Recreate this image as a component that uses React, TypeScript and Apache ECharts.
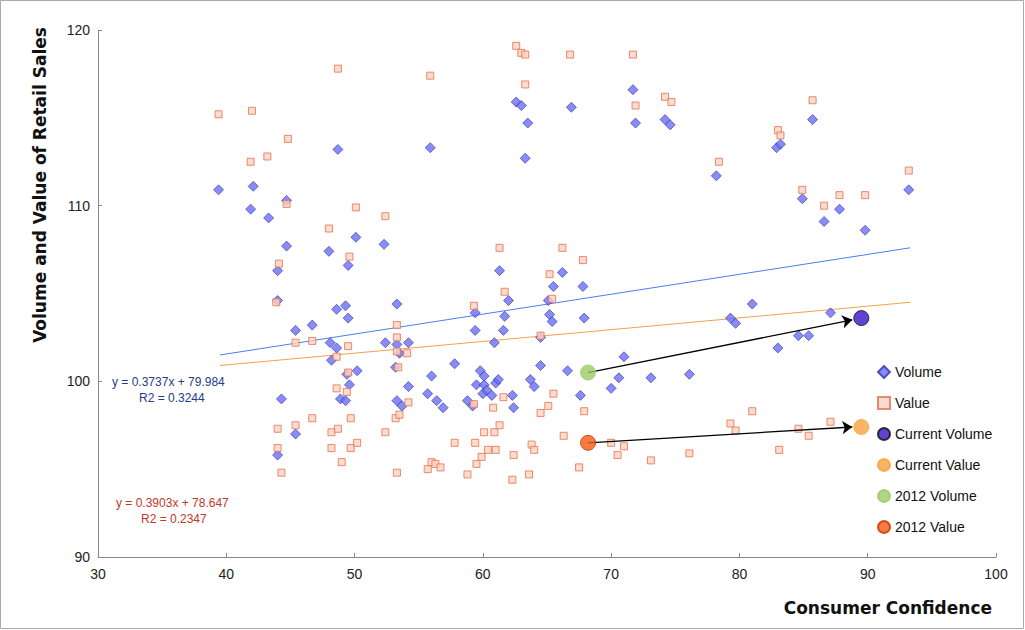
import { useEffect, useRef } from "react";
import * as echarts from "echarts";

const volumePoints: number[][] = [
  [39.4, 110.9], [42.1, 111.1], [41.9, 109.8], [43.3, 109.3], [44.7, 110.3], [44.7, 107.7],
  [44.0, 106.3], [44.0, 104.6], [44.3, 99.0], [44.0, 95.8], [45.4, 102.9], [45.4, 97.0],
  [46.7, 103.2], [48.0, 107.4], [48.1, 102.2], [48.2, 101.2], [48.7, 113.2], [48.6, 104.1],
  [48.6, 101.9], [48.9, 99.0], [49.3, 104.3], [49.5, 103.6], [49.5, 106.6], [49.6, 99.8],
  [49.4, 100.4], [50.1, 108.2], [50.2, 100.6], [49.3, 98.9], [52.3, 107.8], [52.4, 102.2],
  [53.3, 104.4], [53.3, 102.1], [53.5, 101.6], [53.2, 100.8], [53.3, 98.9], [53.7, 98.6],
  [54.2, 102.2], [54.2, 99.7], [55.9, 113.3], [56.0, 100.3], [55.7, 99.3], [56.4, 98.9],
  [56.9, 98.5], [57.8, 101.0], [58.8, 98.9], [59.2, 98.6], [59.4, 103.9], [59.4, 102.9],
  [59.5, 99.8], [59.8, 100.6], [60.1, 100.3], [60.1, 99.8], [60.0, 99.3], [60.3, 99.5],
  [60.7, 99.2], [60.9, 102.2], [61.0, 99.9], [61.2, 100.1], [61.3, 106.3], [61.6, 102.9],
  [61.7, 103.7], [62.0, 104.6], [62.3, 99.2], [62.4, 98.5], [62.6, 115.9], [63.0, 115.7],
  [63.3, 112.7], [63.5, 114.7], [63.7, 100.1], [64.0, 99.7], [64.5, 100.9], [64.5, 102.5],
  [65.1, 104.6], [65.2, 103.8], [65.4, 103.4], [65.5, 105.4], [66.2, 106.2], [66.6, 100.6],
  [66.9, 115.6], [67.6, 99.2], [67.8, 105.4], [67.9, 103.6], [70.0, 99.6], [70.6, 100.2],
  [71.0, 101.4], [71.7, 116.6], [71.9, 114.7], [73.1, 100.2], [74.2, 114.9], [74.6, 114.6],
  [76.1, 100.4], [78.2, 111.7], [79.3, 103.6], [79.7, 103.3], [81.0, 104.4], [83.0, 101.9],
  [82.9, 113.3], [83.2, 113.5], [84.6, 102.6], [84.9, 110.4], [85.4, 102.6], [85.7, 114.9],
  [86.6, 109.1], [87.1, 103.9], [87.8, 109.8], [89.8, 108.6], [93.2, 110.9],
];

const valuePoints: number[][] = [
  [39.4, 115.2], [42.0, 115.4], [41.9, 112.5], [43.2, 112.8], [44.8, 113.8], [44.7, 110.1],
  [44.1, 106.7], [43.9, 104.5], [44.0, 97.3], [44.0, 96.2], [44.3, 94.8], [45.4, 102.2],
  [45.4, 97.5], [46.7, 97.9], [46.7, 102.3], [48.0, 108.7], [48.2, 97.1], [48.2, 96.2],
  [48.6, 101.4], [48.6, 99.6], [48.7, 117.8], [48.7, 97.3], [49.0, 95.4], [49.4, 99.4],
  [49.5, 100.5], [49.5, 102.0], [49.6, 107.1], [49.7, 97.9], [49.7, 96.2], [50.1, 109.9],
  [50.2, 96.5], [52.4, 109.4], [52.4, 97.1], [53.3, 103.2], [53.3, 102.5], [53.3, 101.7],
  [53.4, 100.8], [53.2, 97.9], [53.3, 94.8], [53.5, 98.1], [54.1, 101.6], [54.2, 98.8],
  [55.9, 117.4], [55.7, 95.0], [56.0, 95.4], [56.3, 95.3], [56.7, 95.1], [57.8, 96.5],
  [58.8, 94.7], [59.3, 104.3], [59.4, 96.5], [59.3, 98.7], [59.5, 95.3], [59.9, 95.7],
  [60.1, 97.1], [60.4, 96.1], [60.8, 98.5], [60.9, 97.1], [61.0, 96.1], [61.3, 107.6],
  [61.3, 97.5], [61.6, 99.1], [61.7, 105.1], [62.3, 94.4], [62.4, 95.8], [62.6, 119.1],
  [63.0, 118.7], [63.3, 118.6], [63.3, 116.9], [63.6, 94.7], [63.8, 96.4], [64.0, 96.1],
  [64.5, 102.6], [64.5, 98.2], [65.1, 98.6], [65.2, 106.1], [65.4, 104.7], [65.5, 99.3],
  [66.2, 107.6], [66.3, 96.9], [66.8, 118.6], [67.5, 95.1], [67.8, 106.9], [67.9, 98.3],
  [70.0, 96.5], [70.5, 95.8], [71.0, 96.3], [71.7, 118.6], [71.9, 115.7], [73.1, 95.5],
  [74.2, 116.2], [74.7, 115.9], [76.1, 95.9], [78.4, 112.5], [79.3, 97.6], [79.7, 97.2],
  [81.0, 98.3], [83.0, 114.3], [83.2, 114.0], [83.1, 96.1], [84.6, 97.3], [84.9, 110.9],
  [85.4, 96.9], [85.7, 116.0], [86.6, 110.0], [87.1, 97.7], [87.8, 110.6], [89.8, 110.6],
  [93.2, 112.0],
];

const volumeTrend: number[][] = [[39.5, 101.5], [93.3, 107.6]];
const valueTrend: number[][] = [[39.5, 100.9], [93.3, 104.5]];

const currentVolume: number[] = [89.5, 103.6];
const currentValue: number[] = [89.5, 97.4];
const volume2012: number[] = [68.2, 100.5];
const value2012: number[] = [68.2, 96.5];

const xTicks = { min: 30, max: 100, interval: 10 };
const yTicks = { min: 90, max: 120, interval: 10 };

const FONT = "'Liberation Sans', Arial, sans-serif";

export default function App() {
  const chartRef = useRef<HTMLDivElement>(null);

  useEffect(() => {
    document.body.style.margin = "0";
    if (!chartRef.current) return;
    const chart = echarts.init(chartRef.current, null, { renderer: "svg" });

    const axisCommon = {
      axisLine: { show: true, lineStyle: { color: "#888", width: 1 } },
      axisTick: { show: true, inside: true, length: 4, lineStyle: { color: "#888" } },
      splitLine: { show: false },
      axisLabel: { color: "#222", fontSize: 14, fontFamily: FONT },
    };

    chart.setOption({
      animation: false,
      backgroundColor: "#ffffff",
      textStyle: { fontFamily: FONT },
      grid: { left: 98, right: 29, top: 30, bottom: 73 },
      xAxis: {
        type: "value",
        ...xTicks,
        ...axisCommon,
        axisLabel: { ...axisCommon.axisLabel, margin: 10 },
      },
      yAxis: {
        type: "value",
        ...yTicks,
        ...axisCommon,
      },
      legend: {
        orient: "vertical",
        left: 872,
        top: 359,
        itemGap: 15,
        itemWidth: 12,
        itemHeight: 12,
        textStyle: { fontSize: 14, color: "#111", fontFamily: FONT, lineHeight: 16 },
        data: ["Volume", "Value", "Current Volume", "Current Value", "2012 Volume", "2012 Value"],
      },
      graphic: [
        { type: "text", left: 112, top: 376, style: { text: "y = 0.3737x + 79.984", fill: "#1f3c88", fontSize: 12, fontFamily: FONT } },
        { type: "text", left: 139, top: 392, style: { text: "R2 = 0.3244", fill: "#1f3c88", fontSize: 12, fontFamily: FONT } },
        { type: "text", left: 116, top: 497, style: { text: "y = 0.3903x + 78.647", fill: "#c0392b", fontSize: 12, fontFamily: FONT } },
        { type: "text", left: 141, top: 513, style: { text: "R2 = 0.2347", fill: "#c0392b", fontSize: 12, fontFamily: FONT } },
        {
          type: "text", x: 40, y: 185, rotation: Math.PI / 2,
          style: { text: "Volume and Value of Retail Sales", fill: "#111", fontSize: 17, fontWeight: "bold", fontFamily: "'DejaVu Sans', sans-serif", align: "center", verticalAlign: "middle" },
        },
        {
          type: "text", right: 33, top: 599,
          style: { text: "Consumer Confidence", fill: "#111", fontSize: 17, fontWeight: "bold", fontFamily: "'DejaVu Sans', sans-serif" },
        },
        { type: "rect", shape: { x: 0.5, y: 0.5, width: 1023, height: 628 }, style: { fill: "none", stroke: "#aaa" } },
      ],
      series: [
        {
          name: "Volume", type: "scatter", data: volumePoints, symbol: "diamond", symbolSize: 10,
          itemStyle: { color: "#6b6ff2", borderColor: "#2d33b0", borderWidth: 0.8 },
        },
        {
          name: "Value", type: "scatter", data: valuePoints, symbol: "rect", symbolSize: 7,
          itemStyle: { color: "#fbd3c3", borderColor: "#e5704f", borderWidth: 1 },
        },
        {
          type: "line", data: volumeTrend, showSymbol: false, symbol: "none",
          lineStyle: { color: "#4a7ef0", width: 1 }, z: 1,
        },
        {
          type: "line", data: valueTrend, showSymbol: false, symbol: "none",
          lineStyle: { color: "#f5a04a", width: 1 }, z: 1,
        },
        {
          type: "lines", coordinateSystem: "cartesian2d", symbol: ["none", "arrow"], symbolSize: 10,
          lineStyle: { color: "#000", width: 1.3, opacity: 1 }, z: 3,
          data: [
            { coords: [volume2012, [currentVolume[0] - 0.7, currentVolume[1] - 0.1]] },
            { coords: [value2012, [currentValue[0] - 0.7, currentValue[1]]] },
          ],
        },
        {
          name: "Current Volume", type: "scatter", data: [currentVolume], symbolSize: 15, z: 4,
          itemStyle: { color: "#3a14c8", borderColor: "#111", borderWidth: 1 },
        },
        {
          name: "Current Value", type: "scatter", data: [currentValue], symbolSize: 15, z: 4,
          itemStyle: { color: "#f7a23f", borderColor: "#f7a23f", borderWidth: 1 },
        },
        {
          name: "2012 Volume", type: "scatter", data: [volume2012], symbolSize: 15, z: 4,
          itemStyle: { color: "#9ccc66", borderColor: "#9ccc66", borderWidth: 1 },
        },
        {
          name: "2012 Value", type: "scatter", data: [value2012], symbolSize: 15, z: 4,
          itemStyle: { color: "#f55a14", borderColor: "#c03a00", borderWidth: 1 },
        },
      ],
    });

    return () => chart.dispose();
  }, []);

  return <div ref={chartRef} style={{ width: 1025, height: 630 }} />;
}
